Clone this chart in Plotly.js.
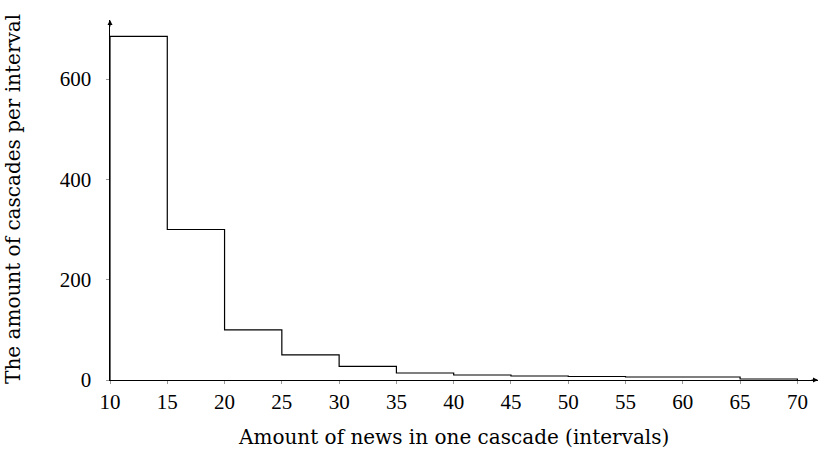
<!DOCTYPE html>
<html>
<head>
<meta charset="utf-8">
<script src="https://cdn.plot.ly/plotly-3.0.1.min.js"></script>
<style>html,body{margin:0;padding:0;background:#fff;}</style>
</head>
<body>
<div id="chart" style="width:819px;height:454px;"></div>
<script>
// Bin edges (interval start values) and counts per interval
const binEdges = [10, 15, 20, 25, 30, 35, 40, 45, 50, 55, 60, 65, 70];
const counts = [685, 300, 100, 50, 27, 14, 10, 8, 7, 6, 6, 2];
const xTicks = [10, 15, 20, 25, 30, 35, 40, 45, 50, 55, 60, 65, 70];
const yTicks = [0, 200, 400, 600];
const xTitle = 'Amount of news in one cascade (intervals)';
const yTitle = 'The amount of cascades per interval';

// Build step outline
const xs = [binEdges[0]];
const ys = [0];
for (let i = 0; i < counts.length; i++) { xs.push(binEdges[i]); ys.push(counts[i]); }
xs.push(binEdges[binEdges.length - 1]); ys.push(counts[counts.length - 1]);
xs.push(binEdges[binEdges.length - 1]); ys.push(0);

const tickFont = {family: 'Liberation Serif, Times New Roman, serif', size: 21, color: '#000'};
const titleFont = {family: 'DejaVu Serif, serif', size: 20, color: '#000'};
const xMax = 71.8, yMax = 717.6;

const trace = {
  x: xs, y: ys, type: 'scatter', mode: 'lines',
  line: {shape: 'hv', color: '#000', width: 1.2},
  cliponaxis: false, hoverinfo: 'skip'
};

const layout = {
  width: 819, height: 454,
  margin: {l: 110, r: 1, t: 20, b: 74},
  paper_bgcolor: '#fff', plot_bgcolor: '#fff',
  font: tickFont,
  showlegend: false,
  xaxis: {
    range: [10, xMax], tickvals: xTicks, ticktext: xTicks.map(String),
    showgrid: false, zeroline: false, showline: true, linecolor: '#000', linewidth: 1,
    ticks: 'outside', ticklen: 3, tickcolor: '#999', tickwidth: 1,
    tickfont: tickFont, automargin: false
  },
  yaxis: {
    range: [0, yMax], tickvals: yTicks, ticktext: yTicks.map(v => v + '\u00a0\u00a0'),
    showgrid: false, zeroline: false, showline: true, linecolor: '#000', linewidth: 1,
    ticks: 'outside', ticklen: 3, tickcolor: '#999', tickwidth: 1,
    tickfont: tickFont, automargin: false
  },
  annotations: [
    {x: xMax, y: 0, xref: 'x', yref: 'y', ax: -8, ay: 0, text: '', showarrow: true,
     arrowhead: 2, arrowsize: 1, arrowwidth: 1, arrowcolor: '#000'},
    {x: 10, y: yMax, xref: 'x', yref: 'y', ax: 0, ay: 8, text: '', showarrow: true,
     arrowhead: 2, arrowsize: 1, arrowwidth: 1, arrowcolor: '#000'},
    {x: 40, y: -0.158, xref: 'x', yref: 'paper', text: xTitle, showarrow: false,
     xanchor: 'center', yanchor: 'middle', font: titleFont},
    {x: -0.137, y: 361, xref: 'paper', yref: 'y', text: yTitle, showarrow: false,
     textangle: -90, xanchor: 'center', yanchor: 'middle', font: titleFont}
  ]
};

Plotly.newPlot('chart', [trace], layout, {displayModeBar: false, staticPlot: true});
</script>
</body>
</html>
